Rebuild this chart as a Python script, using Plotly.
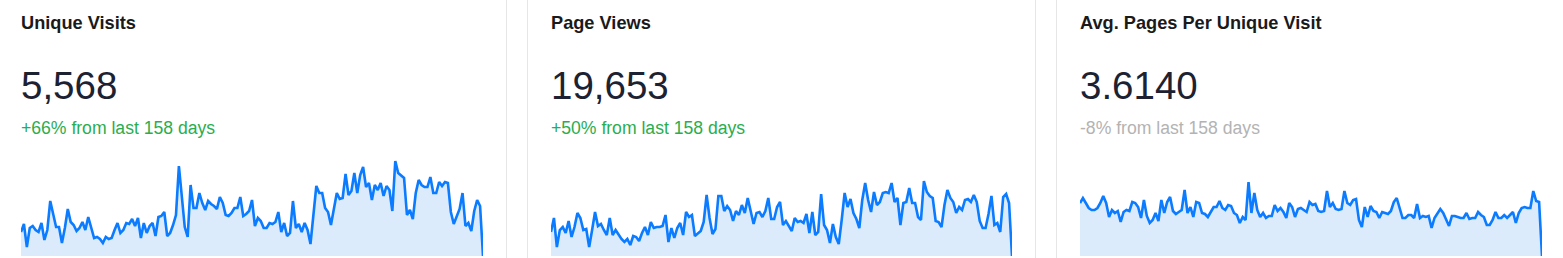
import plotly.graph_objects as go

W, H = 1563, 258

titles = ["Unique Visits", "Page Views", "Avg. Pages Per Unique Visit"]
totals = ["5,568", "19,653", "3.6140"]
changes = ["+66% from last 158 days", "+50% from last 158 days", "-8% from last 158 days"]
change_colors = ["#2aad4f", "#2aad4f", "#b3b3b3"]

unique_visits = [
    24, 32, 9, 28, 30, 26, 24, 33, 16, 26, 55, 41, 29, 29, 13, 28, 47, 34, 31, 25,
    28, 34, 26, 39, 28, 18, 19, 17, 13, 19, 17, 18, 26, 33, 23, 26, 33, 32, 37, 30,
    38, 18, 33, 23, 30, 33, 20, 39, 40, 44, 20, 23, 31, 41, 90, 59, 29, 19, 71, 48,
    48, 63, 53, 46, 55, 52, 50, 47, 59, 53, 41, 40, 43, 48, 48, 59, 40, 42, 45, 56,
    30, 38, 35, 28, 28, 33, 32, 34, 44, 24, 33, 20, 23, 55, 28, 32, 24, 33, 26, 12,
    41, 70, 63, 63, 48, 44, 31, 49, 63, 57, 58, 82, 61, 65, 83, 63, 81, 89, 69, 73,
    56, 71, 66, 73, 60, 70, 66, 45, 95, 83, 80, 78, 41, 46, 37, 63, 76, 71, 69, 69,
    79, 63, 63, 74, 70, 74, 73, 44, 32, 39, 47, 63, 30, 33, 25, 45, 56, 50, 0,
]

page_views = [
    72, 114, 27, 78, 87, 69, 105, 57, 87, 129, 114, 78, 81, 27, 78, 132, 90, 96, 78, 63,
    114, 63, 78, 63, 51, 42, 51, 33, 60, 57, 45, 69, 87, 63, 102, 84, 87, 87, 90, 123,
    42, 84, 54, 84, 99, 63, 132, 117, 123, 60, 69, 75, 102, 183, 114, 66, 81, 180, 180, 135,
    150, 138, 105, 135, 123, 153, 129, 174, 135, 96, 129, 132, 117, 135, 174, 111, 111, 147, 162,
    93, 105, 90, 75, 114, 102, 105, 99, 126, 69, 132, 63, 72, 186, 93, 78, 39, 96, 57, 36,
    108, 189, 147, 171, 129, 111, 84, 168, 219, 168, 132, 192, 153, 162, 189, 192, 189, 219, 162, 174,
    93, 159, 162, 204, 159, 159, 117, 108, 225, 192, 180, 174, 105, 102, 87, 153, 198, 174, 162, 129,
    147, 138, 168, 171, 162, 183, 162, 105, 84, 84, 126, 180, 93, 99, 72, 177, 186, 159, 0,
]

avg_pages = [
    4.24, 4.64, 4.24, 3.84, 3.68, 3.68, 3.84, 4.24, 4.80, 4.24,
    3.12, 3.68, 3.44, 3.60, 2.72, 3.52, 3.68, 3.60, 4.32, 4.24,
    3.92, 3.04, 4.48, 3.20, 2.64, 2.88, 3.44, 2.80, 4.48, 3.44,
    4.32, 4.72, 3.60, 3.36, 3.52, 3.68, 5.28, 3.44, 3.92, 3.12,
    4.32, 4.24, 3.44, 3.36, 3.12, 3.52, 3.92, 3.92, 4.40, 3.84,
    3.68, 4.08, 4.00, 3.44, 3.28, 2.64, 3.12, 2.88, 5.92, 3.44,
    5.04, 3.68, 3.12, 3.44, 3.04, 3.20, 3.20, 4.08, 3.60, 3.84,
    3.52, 3.04, 4.24, 3.92, 3.12, 3.76, 3.84, 3.68, 3.52, 4.32,
    4.08, 4.16, 3.60, 3.52, 3.60, 5.20, 3.92, 4.24, 3.76, 3.68,
    3.76, 5.20, 4.24, 4.08, 4.48, 4.56, 2.88, 2.32, 3.92, 3.12,
    4.00, 3.60, 3.52, 3.04, 3.52, 3.44, 3.36, 3.60, 4.32, 4.64,
    3.92, 3.04, 3.04, 3.28, 3.28, 3.04, 4.16, 3.04, 3.20, 3.12,
    3.20, 2.24, 3.04, 3.44, 3.76, 3.44, 2.88, 2.40, 3.20, 3.20,
    3.12, 3.04, 3.04, 3.44, 2.96, 3.04, 3.04, 3.52, 3.28, 3.12,
    2.48, 2.48, 2.88, 3.52, 3.04, 3.04, 3.28, 3.04, 3.28, 3.52,
    2.64, 3.44, 3.84, 3.92, 3.84, 3.84, 5.20, 4.40, 4.32, 0,
]

series = [unique_visits, page_views, avg_pages]
y_max = [106, 318, 8.48]

# panel geometry in pixels
chart_x = [(21, 483), (551, 1012), (1080, 1542)]
text_x = [21, 551, 1080]
dividers = [506.5, 527.5, 1035.5, 1056.5]
plot_top_px, plot_bot_px = 150, 256

LINE = "#0b7bff"
FILL = "#dcebfc"

fig = go.Figure()
for i, vals in enumerate(series):
    suffix = "" if i == 0 else str(i + 1)
    fig.add_trace(go.Scatter(
        x=list(range(len(vals))), y=vals, mode="lines",
        line=dict(color=LINE, width=2.6), fill="tozeroy", fillcolor=FILL,
        xaxis="x" + suffix, yaxis="y" + suffix, hoverinfo="skip", showlegend=False,
    ))
    x0, x1 = chart_x[i]
    fig.update_layout(**{
        "xaxis" + suffix: dict(domain=[x0 / W, x1 / W], range=[0, len(vals) - 1],
                               visible=False, fixedrange=True),
        "yaxis" + suffix: dict(domain=[(H - plot_bot_px) / H, (H - plot_top_px) / H],
                               range=[0, y_max[i]], visible=False, fixedrange=True,
                               anchor="x" + suffix),
    })
    if i > 0:
        fig.layout["xaxis" + suffix].anchor = "y" + suffix

annotations = []
for i in range(3):
    xp = (text_x[i] - 2) / W
    annotations.append(dict(text="<b>" + titles[i] + "</b>", x=xp, y=1 - 23 / H,
                            xref="paper", yref="paper", xanchor="left", yanchor="middle",
                            showarrow=False,
                            font=dict(family="Liberation Sans, Arial", size=18.2, color="#1a1a1a")))
    annotations.append(dict(text=totals[i], x=xp, y=1 - 86 / H,
                            xref="paper", yref="paper", xanchor="left", yanchor="middle",
                            showarrow=False,
                            font=dict(family="Liberation Sans, Arial", size=38.5, color="#1c2232")))
    annotations.append(dict(text=changes[i], x=xp, y=1 - 127.5 / H,
                            xref="paper", yref="paper", xanchor="left", yanchor="middle",
                            showarrow=False,
                            font=dict(family="Liberation Sans, Arial", size=17.6, color=change_colors[i])))

shapes = [dict(type="line", xref="paper", yref="paper", x0=d / W, x1=d / W, y0=0, y1=1,
               line=dict(color="#e6e6e6", width=1)) for d in dividers]

fig.update_layout(width=W, height=H, margin=dict(l=0, r=0, t=0, b=0),
                  paper_bgcolor="white", plot_bgcolor="white",
                  annotations=annotations, shapes=shapes)

fig.write_html("out.html", config={"displayModeBar": False})
